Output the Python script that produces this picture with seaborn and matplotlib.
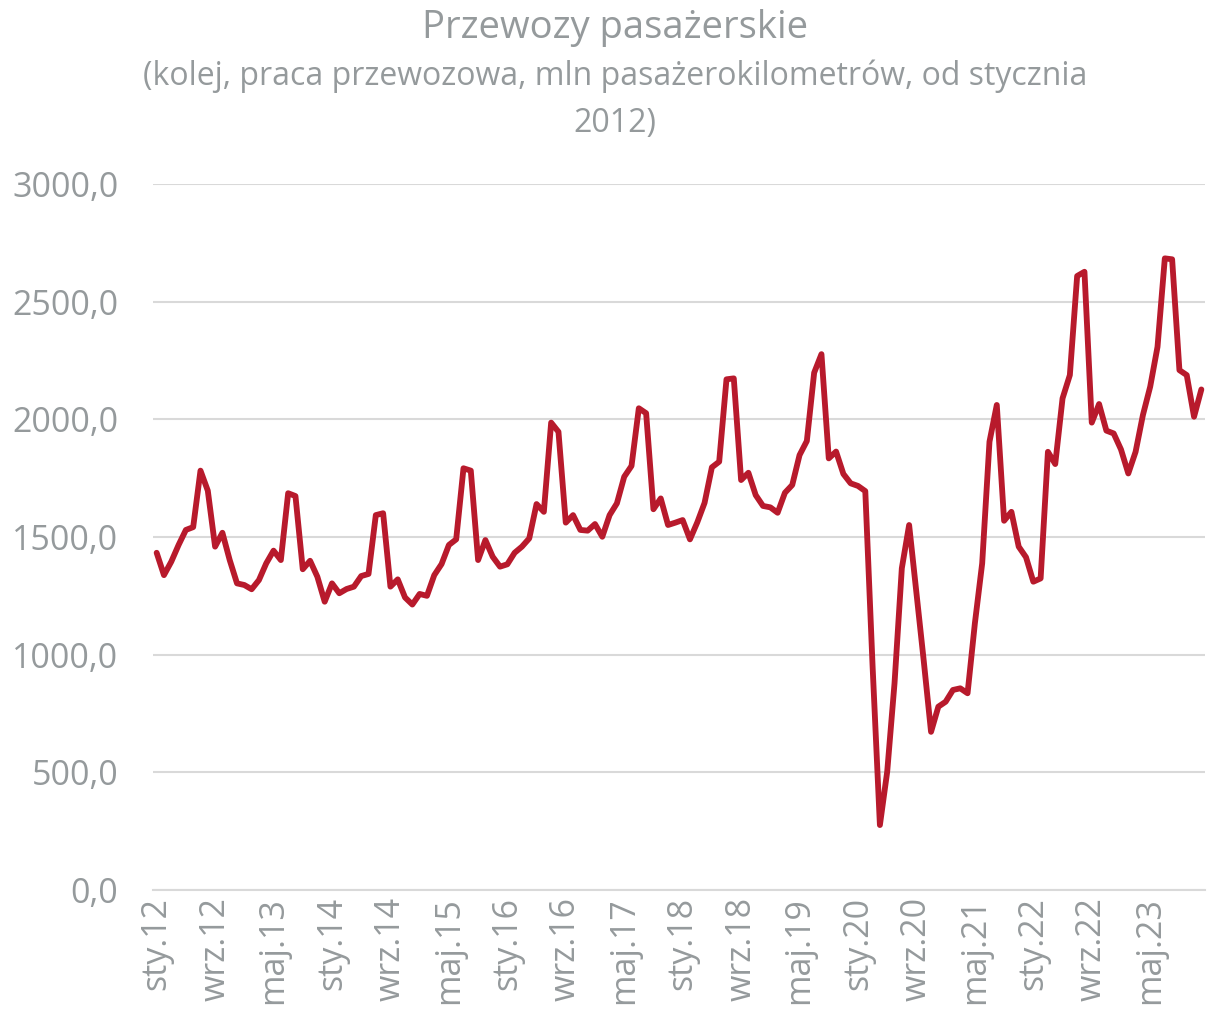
import numpy as np
import pandas as pd
import matplotlib
matplotlib.use("Agg")
import matplotlib.pyplot as plt
import seaborn as sns

# Monthly passenger-km (mln), Jan 2012 - Dec 2023
values = [
    1433, 1338, 1395, 1466, 1530, 1542, 1782, 1697, 1459, 1518, 1402, 1303,
    1296, 1278, 1317, 1388, 1442, 1402, 1686, 1674, 1363, 1399, 1331, 1225,
    1303, 1261, 1279, 1289, 1334, 1343, 1593, 1601, 1289, 1320, 1243, 1213,
    1258, 1250, 1338, 1385, 1466, 1490, 1792, 1782, 1402, 1487, 1416, 1374,
    1384, 1433, 1459, 1494, 1640, 1607, 1986, 1947, 1561, 1593, 1530, 1527,
    1555, 1501, 1593, 1643, 1756, 1802, 2047, 2026, 1618, 1664, 1551, 1561,
    1572, 1490, 1562, 1645, 1796, 1820, 2170, 2174, 1742, 1773, 1678, 1632,
    1626, 1603, 1688, 1721, 1848, 1908, 2198, 2277, 1834, 1863, 1768, 1728,
    1717, 1695, 950, 276, 503, 878, 1367, 1551, 1262, 974, 672, 779,
    800, 850, 857, 836, 1133, 1388, 1905, 2061, 1569, 1607, 1459, 1414,
    1310, 1324, 1862, 1810, 2089, 2188, 2609, 2627, 1986, 2065, 1952, 1940,
    1872, 1770, 1862, 2018, 2139, 2308, 2684, 2680, 2209, 2188, 2011, 2127,
]

months = ["sty", "lut", "mar", "kwi", "maj", "cze",
          "lip", "sie", "wrz", "paź", "lis", "gru"]
years = list(range(12, 24))
categories = [f"{m}.{y}" for y in years for m in months]

y_ticks = [0, 500, 1000, 1500, 2000, 2500, 3000]

title = "Przewozy pasażerskie"
subtitle = "(kolej, praca przewozowa, mln pasażerokilometrów, od stycznia\n2012)"

df = pd.DataFrame({"idx": np.arange(len(values)), "value": values, "label": categories})

sns.set_style("white")
plt.rcParams["font.family"] = ["Open Sans", "DejaVu Sans"]

gray = "#959a9c"
grid = "#d9d9d9"

fig = plt.figure(figsize=(12.09, 10.19), dpi=100)
ax = fig.add_axes([153 / 1209, 1 - 890 / 1019, (1205 - 153) / 1209, (890 - 184) / 1019])

sns.lineplot(data=df, x="idx", y="value", ax=ax, color="#b81a2c", linewidth=4.2)

ax.set_xlim(-0.5, len(values) - 0.5)
ax.set_ylim(0, 3000)
ax.set_yticks(y_ticks)
ax.set_yticklabels([f"{v:.1f}".replace(".", ",") for v in y_ticks], color=gray, fontsize=24.5)
ax.yaxis.grid(True, color=grid, linewidth=1.5)
ax.tick_params(axis="y", length=0, pad=25)

step = 8
major = list(range(0, len(values), step))
ax.set_xticks(major)
ax.set_xticklabels([categories[i] for i in major], rotation=90, color=gray, fontsize=24.5)
ax.set_xticks(np.arange(-0.5, len(values), step), minor=True)
ax.tick_params(axis="x", which="major", length=0, pad=5)
ax.tick_params(axis="x", which="minor", length=8, width=1.5, color=grid)

ax.set_xlabel("")
ax.set_ylabel("")
for s in ["top", "right", "left"]:
    ax.spines[s].set_visible(False)
ax.spines["bottom"].set_color(grid)
ax.spines["bottom"].set_linewidth(1.5)

fig.text(615 / 1209, 1 - 28 / 1019, title, ha="center", va="center", color=gray, fontsize=27.5)
fig.text(615 / 1209, 1 - 100 / 1019, subtitle, ha="center", va="center", color=gray,
         fontsize=23, linespacing=1.55)

fig.savefig("out.png", dpi=100)
